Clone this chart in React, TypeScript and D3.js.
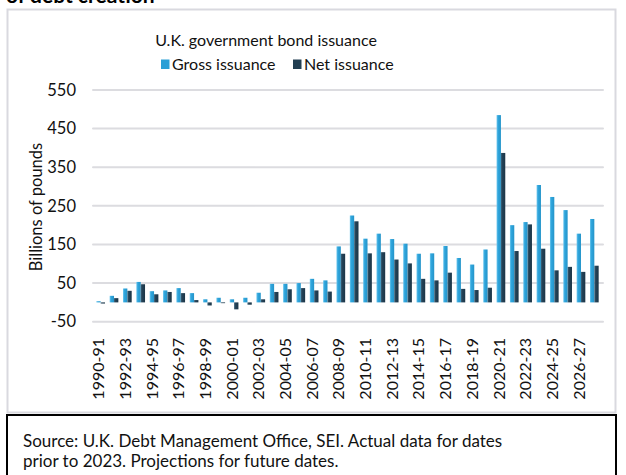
import React from "react";
import * as d3 from "d3";

const years: string[] = [
  "1990-91","1991-92","1992-93","1993-94","1994-95","1995-96","1996-97","1997-98","1998-99","1999-00",
  "2000-01","2001-02","2002-03","2003-04","2004-05","2005-06","2006-07","2007-08","2008-09","2009-10",
  "2010-11","2011-12","2012-13","2013-14","2014-15","2015-16","2016-17","2017-18","2018-19","2019-20",
  "2020-21","2021-22","2022-23","2023-24","2024-25","2025-26","2026-27","2027-28"
];
const gross: number[] = [
  3, 17, 36, 53, 29, 31, 37, 24, 8, 12,
  8, 12, 25, 48, 48, 50, 61, 57, 145, 225,
  165, 178, 164, 152, 126, 127, 146, 115, 98, 137,
  485, 200, 208, 304, 273, 239, 178, 216
];
const net: number[] = [
  -3, 11, 30, 47, 21, 27, 24, 6, -8, -2,
  -18, -6, 8, 27, 34, 37, 31, 28, 126, 210,
  127, 130, 111, 101, 61, 57, 77, 35, 32, 38,
  387, 133, 202, 139, 83, 92, 79, 95
];
const yTicks: number[] = [-50, 50, 150, 250, 350, 450, 550];
const seriesNames: string[] = ["Gross issuance", "Net issuance"];
const seriesColors: string[] = ["#2A9FD6", "#223F52"];

const FONT = "Lato, 'Open Sans', sans-serif";

export default function App() {
  const W = 626, H = 475;
  const x = d3.scaleBand<string>().domain(years).range([94, 601]).paddingInner(0.35).paddingOuter(0.175);
  const xs = d3.scaleBand<string>().domain(seriesNames).range([0, x.bandwidth()]);
  const y = d3.scaleLinear().domain([-50, 550]).range([321.7, 90]);
  const series = [gross, net];
  const labelYears = years.filter((_, i) => i % 2 === 0);

  return (
    <svg width={W} height={H} style={{ position: "fixed", left: 0, top: 0, background: "#fff" }} fontFamily={FONT}>
      <defs>
        <linearGradient id="g0" x1="0" x2="1" y1="0" y2="0">
          <stop offset="0" stopColor="#6CC6EE" />
          <stop offset="0.35" stopColor="#2FA5DC" />
          <stop offset="1" stopColor="#2494C9" />
        </linearGradient>
        <linearGradient id="g1" x1="0" x2="1" y1="0" y2="0">
          <stop offset="0" stopColor="#3F6379" />
          <stop offset="0.35" stopColor="#244257" />
          <stop offset="1" stopColor="#1C3546" />
        </linearGradient>
      </defs>
      <rect x={0} y={0} width={W} height={H} fill="#fff" />
      {/* cut-off heading */}
      <text x={6} y={3} fontSize={21} fontWeight={700} fill="#000">of debt creation</text>

      {/* chart frame */}
      <rect x={7.5} y={9.5} width={608} height={403} fill="#fff" stroke="#D9D9DF" strokeWidth={2} />

      {/* title + legend */}
      <text x={266} y={46} textAnchor="middle" fontSize={16} fill="#111">U.K. government bond issuance</text>
      {seriesNames.map((n, i) => {
        const lx = i === 0 ? 161 : 293;
        return (
          <g key={n}>
            <rect x={lx} y={59.5} width={8.5} height={9.5} fill={seriesColors[i]} />
            <text x={lx + 11} y={69.5} fontSize={16} fill="#111">{n}</text>
          </g>
        );
      })}

      {/* gridlines */}
      {yTicks.map((t) => (
        <g key={t}>
          <line x1={93} x2={603} y1={y(t)} y2={y(t)} stroke="#DCDCE0" strokeWidth={2} strokeLinecap="round" />
          <text x={76} y={y(t)} dy="0.35em" textAnchor="end" fontSize={16.5} fill="#111">{t}</text>
        </g>
      ))}

      {/* y axis title */}
      <text transform={`translate(42,207) rotate(-90)`} textAnchor="middle" fontSize={16.5} fill="#111">Billions of pounds</text>

      {/* bars */}
      {series.map((vals, si) => (
        <g key={si}>
          {vals.map((v, i) => {
            const bx = (x(years[i]) ?? 0) + (xs(seriesNames[si]) ?? 0);
            const y0 = y(0), y1 = y(v);
            return (
              <rect key={i} x={bx} y={Math.min(y0, y1)} width={xs.bandwidth()} height={Math.abs(y1 - y0)} fill={`url(#g${si})`} />
            );
          })}
        </g>
      ))}

      {/* x labels */}
      {labelYears.map((yr) => {
        const cx = (x(yr) ?? 0) + x.bandwidth() / 2 - 2;
        return (
          <text key={yr} transform={`translate(${cx},338) rotate(-90)`} textAnchor="end" dy="0.35em" fontSize={16} fill="#111">{yr}</text>
        );
      })}

      {/* source box */}
      <rect x={7} y={415} width={609} height={70} fill="#fff" stroke="#000" strokeWidth={2} />
      <text x={23} y={446.5} fontSize={17} fill="#111">Source: U.K. Debt Management Office, SEI. Actual data for dates</text>
      <text x={23} y={466.5} fontSize={17} fill="#111">prior to 2023. Projections for future dates.</text>
    </svg>
  );
}
